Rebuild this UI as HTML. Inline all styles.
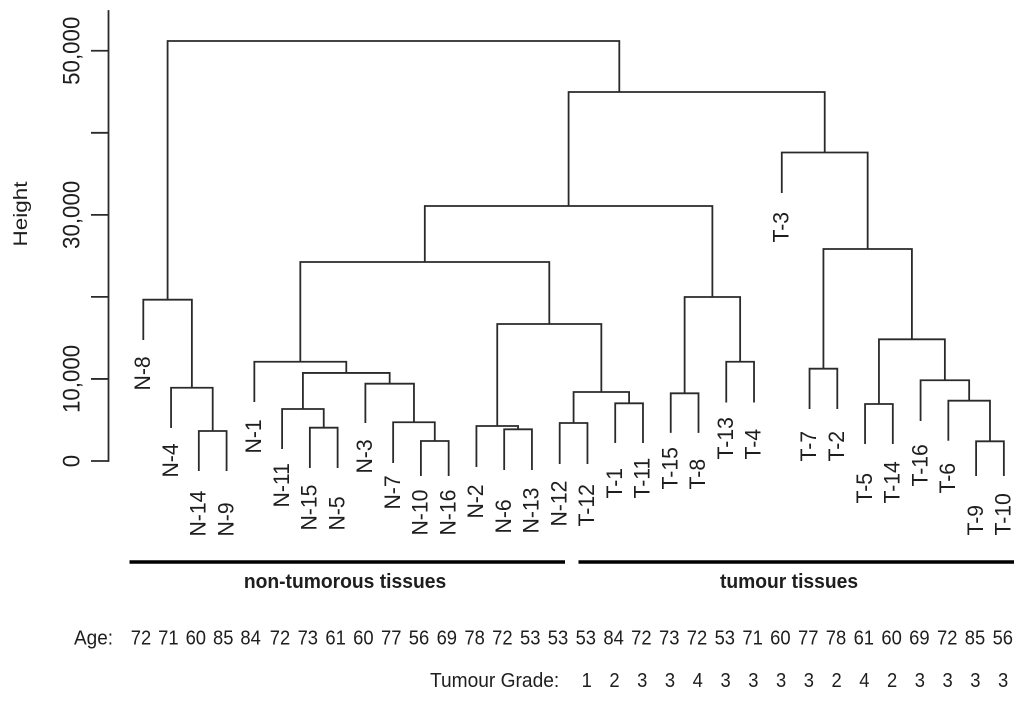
<!DOCTYPE html>
<html lang="en">
<head>
<meta charset="utf-8">
<title>Dendrogram of non-tumorous and tumour tissues</title>
<style>
  html, body { margin: 0; padding: 0; background: #fff; }
  #chart { display: block; width: 1024px; height: 701px; background: #fff; filter: blur(0.3px); }
  text { font-family: "Liberation Sans", sans-serif; fill: #1e1e1e; }
</style>
</head>
<body>
<svg id="chart" xmlns="http://www.w3.org/2000/svg" width="1024" height="701" viewBox="0 0 1024 701">
  <g id="y-axis"></g>
  <text transform="translate(27,214) rotate(-90) scale(1.14,1)" text-anchor="middle" font-size="19.7">Height</text>
  <g id="tree"></g>
  <g id="leaf-labels"></g>
  <line x1="129.5" y1="562" x2="565" y2="562" stroke="#000" stroke-width="3.4"/>
  <line x1="578.5" y1="562" x2="1014" y2="562" stroke="#000" stroke-width="3.4"/>
  <text transform="translate(345,588) scale(0.95,1)" text-anchor="middle" font-size="20.3" font-weight="bold">non-tumorous tissues</text>
  <text transform="translate(789,588) scale(0.95,1)" text-anchor="middle" font-size="20.3" font-weight="bold">tumour tissues</text>
  <text transform="translate(74,644.5) scale(0.94,1)" font-size="20.2">Age:</text>
  <text transform="translate(430,687) scale(0.94,1)" font-size="20.4">Tumour Grade:</text>
  <g id="age-row"></g>
  <g id="grade-row"></g>
</svg>
<script>
// Leaf order, left to right
const leafNames = ["N-8","N-4","N-14","N-9","N-1","N-11","N-15","N-5","N-3","N-7","N-10","N-16","N-2","N-6","N-13","N-12","T-12","T-1","T-11","T-15","T-8","T-13","T-4","T-3","T-7","T-2","T-5","T-14","T-16","T-6","T-9","T-10"];
const ages = [72,71,60,85,84,72,73,61,60,77,56,69,78,72,53,53,53,84,72,73,72,53,71,60,77,78,61,60,69,72,85,56];
const grades = [1,2,3,3,4,3,3,3,3,2,4,2,3,3,3,3];
// Height at which each leaf stem ends
const leafStemHeights = [14750,4020,-1220,-1220,7190,1460,-850,-850,4630,-240,-1830,-1830,-730,-1100,-1100,-370,-370,2190,2190,3430,3430,7130,7130,32660,6340,6340,2070,2070,4880,2470,-1830,-1830];
// Height at which each leaf label begins
const leafLabelHeights = [8780,-1830,-9020,-9020,1100,-5480,-8290,-8290,-1340,-5730,-8900,-8900,-6830,-8650,-8650,-7800,-7800,-4390,-4390,-3290,-3290,370,370,26810,120,120,-5000,-5000,-2930,-3780,-8900,-8900];
// Merge table: negative = leaf (1-based), positive = earlier merge (1-based)
const mergeLeft = [-3,-2,-1,-7,-6,-11,-10,-9,5,-5,-14,-13,-16,-18,13,12,10,-20,-22,18,17,-25,-27,-31,-30,-29,23,22,-24,21,3];
const mergeRight = [-4,1,2,-8,4,-12,6,7,8,9,-15,11,-17,-19,14,15,16,-21,-23,19,20,-26,-28,-32,24,25,26,27,28,29,30];
const mergeHeights = [3660,8930,19660,4060,6340,2440,4720,9420,10730,12100,3860,4270,4630,7030,8410,16700,24250,8250,12100,19990,31080,11250,6950,2400,7350,9840,14830,25840,37600,44970,51190];
// Share of a merge bar at which its parent stem attaches (only merge 30 is off-centre)
const offCentreMerge = 30;
const offCentreShare = 0.198;
// Axis values
const yTicks = [0,10000,20000,30000,40000,50000];
const yTickLabels = ["0","10,000","","30,000","","50,000"];
const yAxisMax = 54950;
const firstGradeLeaf = 16;

const SVG_NS = "http://www.w3.org/2000/svg";
function xScale(i) { return 143.3 + i * 27.76; }
function ageX(i) { return i <= 4 ? 141 + i * 27.4 : 280 + (i - 5) * 27.8; }
function yScale(v) { return 461 - v * 0.008205; }
function make(tag, parent, attrs) {
  const el = document.createElementNS(SVG_NS, tag);
  for (const k in attrs) el.setAttribute(k, attrs[k]);
  parent.appendChild(el);
  return el;
}

// Y axis
const axisG = document.getElementById("y-axis");
const axisStyle = { stroke: "#2a2a2a", "stroke-width": 1.8, fill: "none" };
const axisLine = make("line", axisG, Object.assign({ x1: 108.5, x2: 108.5, y1: yScale(yAxisMax), y2: yScale(0) + 0.9 }, axisStyle));


yTicks.forEach(function (t, i) {
  const tick = make("line", axisG, Object.assign({ x1: 91, x2: 108.5, y1: yScale(t), y2: yScale(t) }, axisStyle));
  
  
  if (yTickLabels[i]) {
    const lab = make("text", axisG, { transform: "translate(79.5," + yScale(t) + ") rotate(-90) scale(0.93,1)", "text-anchor": "middle", "font-size": 24 });
    
    
    lab.textContent = yTickLabels[i];
  }
});

// Dendrogram
const treeG = document.getElementById("tree");
const mergeX = [];
function childX(c) { return c < 0 ? xScale(-c - 1) : mergeX[c - 1]; }
function childBottom(c) { return c < 0 ? yScale(leafStemHeights[-c - 1]) : yScale(mergeHeights[c - 1]); }
mergeHeights.forEach(function (h, i) {
  const a = mergeLeft[i], b = mergeRight[i];
  const xa = childX(a), xb = childX(b), y = yScale(h);
  const share = (i + 1 === offCentreMerge) ? offCentreShare : 0.5;
  mergeX[i] = xa + (xb - xa) * share;
  const d = "M" + xa + " " + childBottom(a) + "V" + y + "H" + xb + "V" + childBottom(b);
  const p = make("path", treeG, { d: d, fill: "none", stroke: "#2a2a2a", "stroke-width": 1.8 });
  
  
});

// Leaf labels
const labelG = document.getElementById("leaf-labels");
leafNames.forEach(function (name, i) {
  const t = make("text", labelG, { transform: "translate(" + (xScale(i) + 6.7) + "," + (yScale(leafLabelHeights[i]) + 1.5) + ") rotate(-90) scale(0.95,1)", "font-size": 22.3 });
  
  
  t.textContent = name;
});

// Age row
const ageG = document.getElementById("age-row");
ages.forEach(function (a, i) {
  const t = make("text", ageG, { transform: "translate(" + ageX(i) + ",644.5) scale(0.92,1)", "text-anchor": "middle", "font-size": 20 });
  
  
  t.textContent = a;
});

// Grade row
const gradeG = document.getElementById("grade-row");
grades.forEach(function (g, i) {
  const t = make("text", gradeG, { transform: "translate(" + (xScale(firstGradeLeaf + i) - 0.7) + ",687) scale(0.92,1)", "text-anchor": "middle", "font-size": 20 });
  
  
  t.textContent = g;
});
</script>
</body>
</html>
